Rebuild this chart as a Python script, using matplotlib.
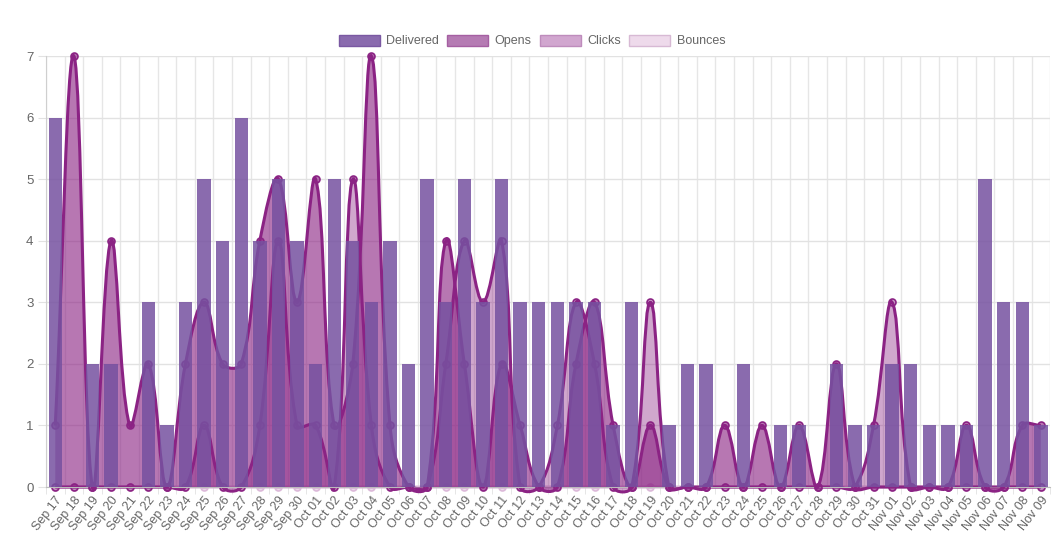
import numpy as np
import matplotlib
matplotlib.use('Agg')
import matplotlib.pyplot as plt
from matplotlib.path import Path
from matplotlib.patches import PathPatch, Patch

plt.rcParams['font.family'] = ['Liberation Sans', 'DejaVu Sans']

labels = ['Sep 17', 'Sep 18', 'Sep 19', 'Sep 20', 'Sep 21', 'Sep 22', 'Sep 23', 'Sep 24',
          'Sep 25', 'Sep 26', 'Sep 27', 'Sep 28', 'Sep 29', 'Sep 30',
          'Oct 01', 'Oct 02', 'Oct 03', 'Oct 04', 'Oct 05', 'Oct 06', 'Oct 07', 'Oct 08',
          'Oct 09', 'Oct 10', 'Oct 11', 'Oct 12', 'Oct 13', 'Oct 14', 'Oct 15', 'Oct 16',
          'Oct 17', 'Oct 18', 'Oct 19', 'Oct 20', 'Oct 21', 'Oct 22', 'Oct 23', 'Oct 24',
          'Oct 25', 'Oct 26', 'Oct 27', 'Oct 28', 'Oct 29', 'Oct 30', 'Oct 31',
          'Nov 01', 'Nov 02', 'Nov 03', 'Nov 04', 'Nov 05', 'Nov 06', 'Nov 07', 'Nov 08', 'Nov 09']

delivered = [6, 0, 2, 2, 0, 3, 1, 3, 5, 4, 6, 4, 5, 4,
             2, 5, 4, 3, 4, 2, 5, 3, 5, 3, 5, 3, 3, 3, 3, 3, 1, 3, 0, 1, 2, 2, 0, 2, 0, 1, 1, 0, 2, 1, 1,
             2, 2, 1, 1, 1, 5, 3, 3, 1]
opens = [1, 7, 0, 4, 1, 2, 0, 2, 3, 2, 2, 4, 5, 3,
         5, 1, 2, 7, 1, 0, 0, 4, 2, 0, 2, 1, 0, 0, 2, 3, 1, 0, 1, 0, 0, 0, 1, 0, 1, 0, 1, 0, 2, 0, 0,
         0, 0, 0, 0, 1, 0, 0, 1, 1]
clicks = [0, 0, 0, 0, 0, 0, 0, 0, 1, 0, 0, 1, 4, 1,
          1, 0, 5, 1, 0, 0, 0, 2, 4, 3, 4, 0, 0, 1, 3, 2, 0, 0, 3, 0, 0, 0, 0, 0, 0, 0, 0, 0, 0, 0, 1,
          3, 0, 0, 0, 0, 0, 0, 0, 0]
bounces = [0, 0, 0, 0, 0, 0, 0, 0, 0, 0, 0, 0, 0, 0,
           0, 0, 0, 0, 0, 0, 0, 0, 0, 0, 0, 0, 0, 0, 0, 0, 0, 0, 0, 0, 0, 0, 0, 0, 0, 0, 0, 0, 0, 0, 0,
           0, 0, 0, 0, 0, 0, 0, 0, 0]

magenta = (139/255, 35/255, 132/255)
bar_col = (118/255, 81/255, 160/255, 0.85)


def spline(ax, xs, ys, t=0.4):
    # chart.js style bezier, control points worked out in pixel space
    pts = ax.transData.transform(np.column_stack([xs, ys]).astype(float))
    n = len(pts)
    cprev, cnext = [], []
    for i in range(n):
        p0 = pts[max(i - 1, 0)]
        p1 = pts[i]
        p2 = pts[min(i + 1, n - 1)]
        d01 = np.hypot(*(p1 - p0))
        d12 = np.hypot(*(p2 - p1))
        tot = d01 + d12
        s01 = d01 / tot if tot else 0
        s12 = d12 / tot if tot else 0
        cprev.append(p1 - t * s01 * (p2 - p0))
        cnext.append(p1 + t * s12 * (p2 - p0))
    verts = [pts[0]]
    for i in range(n - 1):
        verts += [cnext[i], cprev[i + 1], pts[i + 1]]
    return ax.transData.inverted().transform(np.array(verts))


fig = plt.figure(figsize=(10.64, 5.53), dpi=100)
ax = fig.add_axes([0.0432, 0.1193, 0.9438, 0.7794])
x = np.arange(len(labels))
ax.set_xlim(-0.5, len(labels) - 0.5)
ax.set_ylim(0, 7)

series = [
    ('Bounces', bounces, (*magenta, 0.16), (220/255, 185/255, 217/255), 1),
    ('Clicks', clicks, (*magenta, 0.40), magenta, 2),
    ('Opens', opens, (*magenta, 0.62), magenta, 3),
]
for name, vals, fc, lc, z in series:
    v = spline(ax, x, vals)
    n = len(v)
    line = PathPatch(Path(v, [Path.MOVETO] + [Path.CURVE4] * (n - 1)),
                     fill=False, edgecolor=lc, lw=2.2, zorder=z + 0.1, clip_on=False)
    fv = np.vstack([[x[0], 0], v, [x[-1], 0], [x[0], 0]])
    fcodes = [Path.MOVETO, Path.LINETO] + [Path.CURVE4] * (n - 1) + [Path.LINETO, Path.CLOSEPOLY]
    fill = PathPatch(Path(fv, fcodes), facecolor=fc, edgecolor='none', zorder=z, clip_on=False)
    ax.add_patch(fill)
    ax.add_patch(line)
    ax.plot(x, vals, 'o', ms=5, mfc=fc, mec=lc, mew=1.2, zorder=z + 0.2, clip_on=False)

ax.bar(x, delivered, width=0.72, color=bar_col, zorder=4)

ax.set_axisbelow(True)
ax.set_yticks(range(0, 8))
ax.set_xticks(x)
ax.set_xticklabels(labels, rotation=52, ha='right', rotation_mode='anchor')
ax.set_xticks(np.arange(-0.5, len(labels), 1), minor=True)
ax.tick_params(axis='x', which='major', length=0, labelsize=9, colors='#666666', pad=5)
ax.tick_params(axis='x', which='minor', length=5, color='#e2e2e2')
ax.tick_params(axis='y', length=6, color='#e2e2e2', labelsize=9.5, labelcolor='#666666', pad=3)
ax.grid(True, which='minor', axis='x', color='#e6e6e6', lw=1)
ax.grid(True, which='major', axis='y', color='#e2e2e2', lw=1)
for s in ['top', 'right']:
    ax.spines[s].set_visible(False)
ax.spines['left'].set_color('#cfcfcf')
ax.spines['bottom'].set_color('#bdbdbd')

handles = [
    Patch(facecolor=(138/255, 107/255, 174/255), edgecolor=(122/255, 88/255, 162/255), label='Delivered'),
    Patch(facecolor=(181/255, 123/255, 179/255), edgecolor=(165/255, 95/255, 162/255), label='Opens'),
    Patch(facecolor=(209/255, 166/255, 207/255), edgecolor=(190/255, 140/255, 188/255), label='Clicks'),
    Patch(facecolor=(238/255, 218/255, 235/255), edgecolor=(215/255, 185/255, 212/255), label='Bounces'),
]
leg = fig.legend(handles=handles, loc='center', bbox_to_anchor=(0.5, 1 - 41/553), ncol=4,
                 frameon=False, fontsize=9, handlelength=3.3, handleheight=1.0,
                 columnspacing=0.65, handletextpad=0.5)
for t in leg.get_texts():
    t.set_color('#666666')

fig.savefig('out.png', dpi=100)
